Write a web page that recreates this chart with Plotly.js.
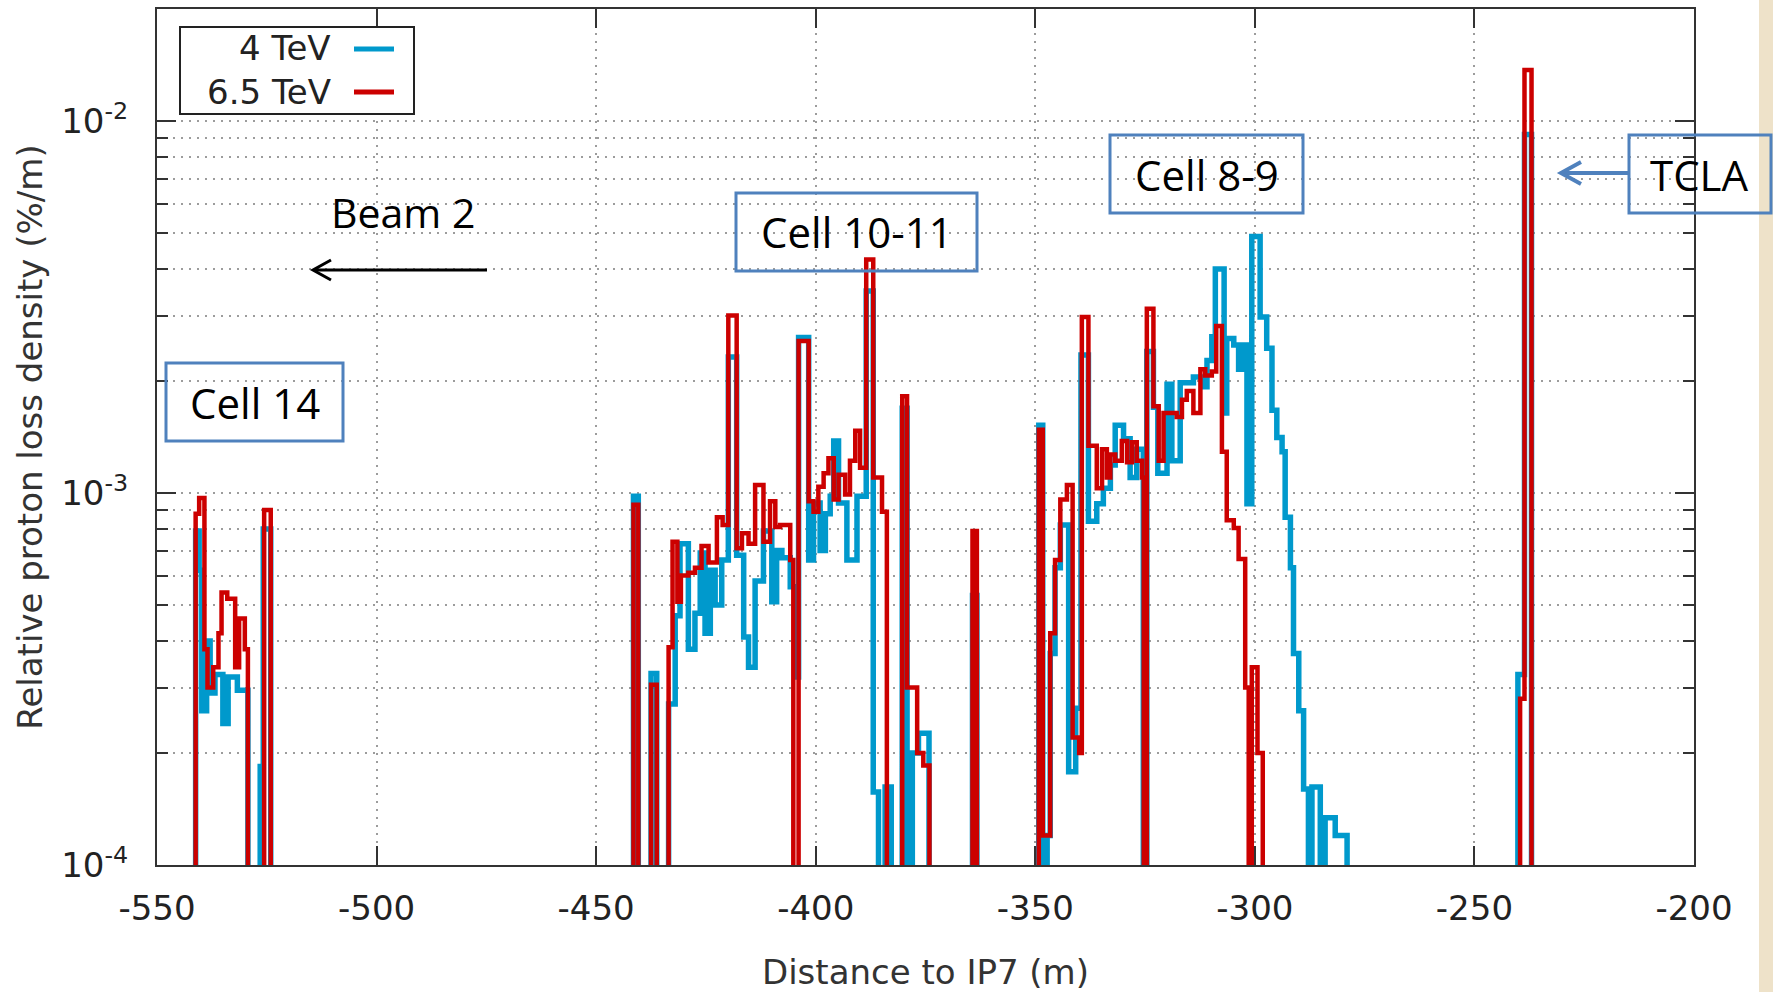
<!DOCTYPE html>
<html><head><meta charset="utf-8">
<script src="https://cdn.plot.ly/plotly-3.0.1.min.js"></script>
<style>html,body{margin:0;padding:0;background:#fff;}#chart{width:1773px;height:992px;}</style>
</head><body><div id="chart"></div>
<script>
// empty bin (below the 1e-4 axis floor)
const ZERO = 1e-6;

const seriesNames = ['4 TeV', '6.5 TeV'];
const xTickVals = [-550, -500, -450, -400, -350, -300, -250, -200];
const xTickText = ['-550', '-500', '-450', '-400', '-350', '-300', '-250', '-200'];
const yTickVals = [1e-4, 1e-3, 1e-2];
const yTickText = ['10<sup>-4</sup>', '10<sup>-3</sup>', '10<sup>-2</sup>'];
const yMinorVals = [2e-4,3e-4,4e-4,5e-4,6e-4,7e-4,8e-4,9e-4,2e-3,3e-3,4e-3,5e-3,6e-3,7e-3,8e-3,9e-3];

// 4 TeV: bin left edges (m) and loss density (%/m)
const blueEdges = [
 -550, -541.2, -540.4, -539.8, -538.7, -537.9, -536.8, -535.0, -533.8, -531.7,
 -529.3, -526.5, -525.8, -524.1, -441.5, -440.4, -437.5, -436.2, -433.5, -432.0,
 -430.9, -429.0, -427.5, -426.3, -425.2, -424.0, -422.9, -421.4, -419.9, -418.0,
 -416.4, -415.3, -413.8, -411.9, -410.0, -408.9, -407.7, -405.8, -404.7, -403.9,
 -401.6, -400.5, -399.0, -397.8, -396.7, -395.9, -394.8, -392.9, -390.6, -388.5,
 -386.9, -385.7, -384.2, -382.8, -380.3, -379.2, -378.0, -376.6, -374.2, -364.3,
 -363.3, -349.2, -348.3, -347.3, -346.6, -345.5, -344.3, -342.4, -340.8, -339.6,
 -337.9, -336.0, -334.5, -332.9, -331.8, -329.9, -328.4, -326.9, -325.4, -324.6,
 -323.1, -322.1, -320.0, -318.9, -317.0, -314.0, -312.1, -310.9, -309.8, -309.0,
 -307.0, -306.4, -304.8, -303.7, -303.0, -301.8, -300.7, -298.8, -297.3, -296.1,
 -295.0, -293.8, -293.1, -291.9, -291.2, -290.0, -288.9, -287.8, -287.0, -285.1,
 -284.0, -281.7, -279.0, -240.1, -238.6, -237.0, -200
];
const blueValues = [
 ZERO, 7.9e-4, 6.2e-4, 2.6e-4, 4.0e-4, 2.9e-4, 3.25e-4, 2.4e-4, 3.2e-4, 2.95e-4,
 ZERO, 1.84e-4, 8.0e-4, ZERO, 9.8e-4, ZERO, 3.27e-4, ZERO, 2.71e-4, 4.68e-4,
 7.3e-4, 3.8e-4, 4.75e-4, 6.9e-4, 4.2e-4, 6.2e-4, 5.0e-4, 6.6e-4, 2.32e-3, 6.8e-4,
 4.1e-4, 3.4e-4, 5.8e-4, 7.9e-4, 5.1e-4, 7.0e-4, 6.7e-4, 5.6e-4, 3.2e-4, 2.62e-3,
 6.6e-4, 9.4e-4, 7.0e-4, 8.8e-4, 9.8e-4, 1.38e-3, 9.4e-4, 6.6e-4, 9.8e-4, 3.49e-3,
 1.57e-4, ZERO, 1.62e-4, ZERO, 1.69e-3, ZERO, 2.0e-4, 2.26e-4, ZERO, 5.3e-4,
 ZERO, 1.52e-3, ZERO, 1.2e-4, 3.7e-4, 6.3e-4, 8.2e-4, 1.78e-4, 2.64e-4, 2.35e-3,
 8.4e-4, 9.35e-4, 1.03e-3, 1.19e-3, 1.52e-3, 1.4e-3, 1.1e-3, 1.31e-3, ZERO, 2.4e-3,
 1.7e-3, 1.13e-3, 1.96e-3, 1.22e-3, 1.98e-3, 2.05e-3, 1.93e-3, 2.27e-3, 2.63e-3, 4.0e-3,
 1.64e-3, 2.6e-3, 2.5e-3, 2.15e-3, 2.5e-3, 9.35e-4, 4.89e-3, 2.97e-3, 2.45e-3, 1.67e-3,
 1.41e-3, 1.29e-3, 8.6e-4, 6.3e-4, 3.7e-4, 2.6e-4, 1.6e-4, ZERO, 1.62e-4, ZERO,
 1.34e-4, 1.2e-4, ZERO, 3.25e-4, 9.2e-3, ZERO, ZERO
];

// 6.5 TeV: bin left edges (m) and loss density (%/m)
const redEdges = [
 -550, -541.2, -540.4, -539.2, -538.5, -537.2, -536.0, -535.3, -534.0, -532.2,
 -531.3, -530.0, -529.3, -525.6, -524.1, -441.5, -440.4, -437.5, -436.2, -433.5,
 -432.6, -431.5, -430.7, -429.0, -427.5, -426.0, -424.4, -422.5, -421.2, -419.9,
 -418.0, -416.8, -415.3, -413.8, -411.9, -410.4, -409.2, -408.1, -405.8, -405.1,
 -403.9, -401.6, -400.5, -399.4, -398.2, -397.1, -395.9, -394.8, -393.3, -392.2,
 -391.0, -389.9, -388.5, -386.9, -384.9, -383.8, -380.3, -379.2, -376.9, -375.5,
 -374.1, -364.3, -363.3, -349.2, -348.3, -346.6, -345.5, -344.3, -342.8, -341.5,
 -340.0, -339.4, -337.9, -336.0, -334.8, -333.7, -332.9, -331.8, -330.3, -329.1,
 -328.0, -326.9, -325.7, -325.3, -324.6, -323.1, -321.9, -320.8, -317.8, -316.6,
 -315.5, -314.0, -312.4, -311.3, -309.8, -308.8, -307.5, -306.4, -304.8, -303.7,
 -302.2, -301.4, -300.7, -299.4, -298.2, -239.6, -238.6, -237.0, -200
];
const redValues = [
 ZERO, 8.8e-4, 9.7e-4, 3.8e-4, 3.0e-4, 3.4e-4, 4.2e-4, 5.4e-4, 5.2e-4, 3.4e-4,
 4.6e-4, 3.8e-4, ZERO, 9.0e-4, ZERO, 9.3e-4, ZERO, 3.05e-4, ZERO, 3.85e-4,
 7.4e-4, 5.1e-4, 6.0e-4, 6.1e-4, 6.3e-4, 7.2e-4, 6.5e-4, 8.6e-4, 8.2e-4, 3.0e-3,
 7.1e-4, 7.8e-4, 7.3e-4, 1.05e-3, 7.4e-4, 9.5e-4, 8.1e-4, 8.2e-4, 6.6e-4, ZERO,
 2.56e-3, 9.5e-4, 8.9e-4, 1.04e-3, 1.13e-3, 1.24e-3, 9.6e-4, 1.12e-3, 9.9e-4, 1.22e-3,
 1.47e-3, 1.17e-3, 4.24e-3, 1.1e-3, 8.9e-4, ZERO, 1.82e-3, 3.0e-4, 2.0e-4, 1.85e-4,
 ZERO, 7.9e-4, ZERO, 1.48e-3, 1.2e-4, 4.2e-4, 6.6e-4, 9.6e-4, 1.05e-3, 2.2e-4,
 2.0e-4, 2.97e-3, 1.34e-3, 1.03e-3, 1.31e-3, 1.1e-3, 1.27e-3, 1.22e-3, 1.38e-3, 1.21e-3,
 1.37e-3, 1.22e-3, 1.1e-3, ZERO, 3.13e-3, 1.71e-3, 1.22e-3, 1.64e-3, 1.6e-3, 1.78e-3,
 1.88e-3, 1.64e-3, 2.15e-3, 2.07e-3, 2.12e-3, 2.81e-3, 1.29e-3, 8.45e-4, 8.05e-4, 6.65e-4,
 3.0e-4, ZERO, 3.4e-4, 2.0e-4, ZERO, 2.8e-4, 1.37e-2, ZERO, ZERO
];

const blueColor = '#0099cc';
const redColor = '#cc0000';
const boxColor = '#4f81bd';
const gridStyle = {showgrid: true, gridcolor: '#9c9c9c', gridwidth: 2, griddash: '2px,6px'};
const frame = {showline: true, linecolor: '#333', linewidth: 2, mirror: 'allticks',
  ticks: 'inside', ticklen: 19, tickwidth: 2, tickcolor: '#333', zeroline: false, automargin: false};

const traces = [
  {x: blueEdges, y: blueValues, name: seriesNames[0], type: 'scatter', mode: 'lines',
   line: {shape: 'hv', color: blueColor, width: 5.5}, hoverinfo: 'x+y'},
  {x: redEdges, y: redValues, name: seriesNames[1], type: 'scatter', mode: 'lines',
   line: {shape: 'hv', color: redColor, width: 4.5}, hoverinfo: 'x+y'}
];

// paper helpers (plot area: 1537 x 856 px)
const P = {l: 157, r: 79, t: 9, b: 127, W: 1537, H: 856};
const px = X => (X - P.l) / P.W;
const py = Y => (P.t + P.H - Y) / P.H;

const txtFont = {family: 'Open Sans, Noto Sans, sans-serif', size: 42, color: '#000'};
function box(x0, y0, x1, y1) {
  return {type: 'rect', xref: 'paper', yref: 'paper', x0: px(x0), x1: px(x1), y0: py(y1), y1: py(y0),
    line: {color: boxColor, width: 3}, fillcolor: 'rgba(0,0,0,0)'};
}
function boxText(t, x0, y0, x1, y1) {
  return {text: t, xref: 'paper', yref: 'paper', x: px((x0 + x1) / 2), y: py((y0 + y1) / 2),
    xanchor: 'center', yanchor: 'middle', showarrow: false, font: txtFont};
}
// arrow pointing left: tail (x1,y) -> tip (x0,y), chevron head
function arrowShapes(x0, x1, y, headLen, headHalf, color, width) {
  return [
    {type: 'line', xref: 'paper', yref: 'paper', x0: px(x1), x1: px(x0 + 2), y0: py(y), y1: py(y),
     line: {color: color, width: width}},
    {type: 'path', xref: 'paper', yref: 'paper',
     path: 'M' + px(x0 + headLen) + ',' + py(y - headHalf) + ' L' + px(x0) + ',' + py(y) + ' L' + px(x0 + headLen) + ',' + py(y + headHalf),
     line: {color: color, width: width}, fillcolor: 'rgba(0,0,0,0)'}
  ];
}

const shapes = [
  {type: 'rect', xref: 'paper', yref: 'paper', layer: 'below', x0: px(1759), x1: px(1773), y0: py(992), y1: py(0),
   line: {width: 0}, fillcolor: '#eee2c9'},
  {type: 'rect', xref: 'paper', yref: 'paper', x0: px(180), x1: px(414), y0: py(114), y1: py(27),
   line: {color: '#222', width: 2}, fillcolor: '#fff'},
  {type: 'line', xref: 'paper', yref: 'paper', x0: px(354), x1: px(394), y0: py(49), y1: py(49),
   line: {color: blueColor, width: 5}},
  {type: 'line', xref: 'paper', yref: 'paper', x0: px(354), x1: px(394), y0: py(92), y1: py(92),
   line: {color: redColor, width: 5}},
  box(166, 363, 343, 441),
  box(736, 193, 977, 271),
  box(1110, 135, 1303, 213),
  box(1629, 135, 1771, 213)
].concat(arrowShapes(313, 487, 270, 18, 10, '#000', 3))
 .concat(arrowShapes(1561, 1629, 173, 20, 11, boxColor, 4));

const legFont = {family: 'DejaVu Sans', size: 34, color: '#222'};
const annotations = [
  {text: seriesNames[0], xref: 'paper', yref: 'paper', x: px(333), y: py(48), xanchor: 'right', yanchor: 'middle', showarrow: false, font: legFont},
  {text: seriesNames[1], xref: 'paper', yref: 'paper', x: px(333), y: py(92), xanchor: 'right', yanchor: 'middle', showarrow: false, font: legFont},
  boxText('Cell 14', 166, 363, 343, 441),
  boxText('Cell 10-11', 736, 193, 977, 271),
  boxText('Cell 8-9', 1110, 135, 1303, 213),
  boxText('TCLA', 1629, 135, 1771, 213),
  {text: 'Beam 2', xref: 'paper', yref: 'paper', x: px(403), y: py(212), xanchor: 'center', yanchor: 'middle', showarrow: false,
   font: {family: 'Open Sans, Noto Sans, sans-serif', size: 41, color: '#000'}}
];

const layout = {
  width: 1773, height: 992,
  margin: {l: P.l, r: P.r, t: P.t, b: P.b, pad: 0},
  paper_bgcolor: '#fff', plot_bgcolor: '#fff',
  showlegend: false,
  font: {family: 'DejaVu Sans', size: 34, color: '#222'},
  xaxis: Object.assign({}, frame, gridStyle, {
    range: [-550, -200], tickmode: 'array', tickvals: xTickVals, ticktext: xTickText,
    ticklabelstandoff: 12,
    tickfont: {family: 'DejaVu Sans', size: 34, color: '#222'},
    title: {text: 'Distance to IP7 (m)', font: {family: 'DejaVu Sans', size: 34, color: '#333'}, standoff: 34}
  }),
  yaxis: Object.assign({}, frame, gridStyle, {
    type: 'log', range: [-4, Math.log10(0.02)], tickmode: 'array', tickvals: yTickVals, ticktext: yTickText,
    ticklabelstandoff: 20,
    tickfont: {family: 'DejaVu Sans', size: 34, color: '#222'},
    minor: Object.assign({tickvals: yMinorVals, ticks: 'inside', ticklen: 11, tickwidth: 2, tickcolor: '#333'}, gridStyle),
    title: {text: 'Relative proton loss density (%/m)', font: {family: 'DejaVu Sans', size: 34, color: '#333'}, standoff: 8}
  }),
  shapes: shapes,
  annotations: annotations
};

Plotly.newPlot('chart', traces, layout, {displayModeBar: false, staticPlot: true});
</script>
</body></html>
